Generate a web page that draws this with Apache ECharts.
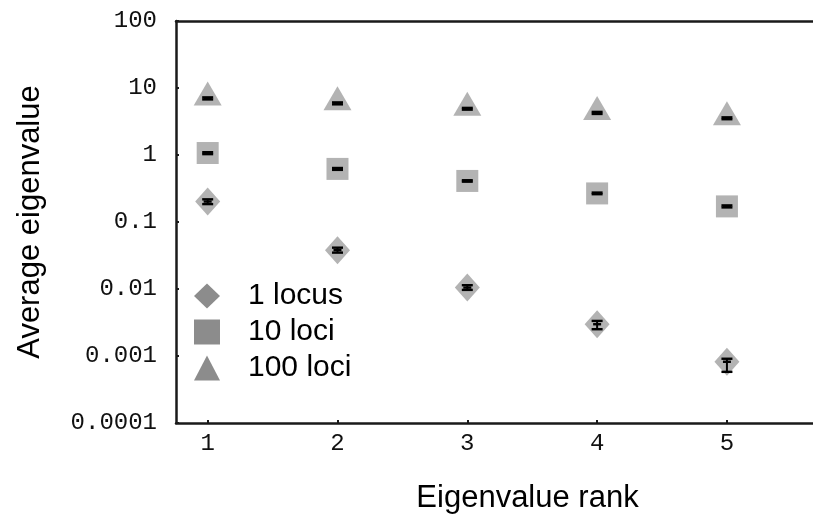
<!DOCTYPE html>
<html>
<head>
<meta charset="utf-8">
<script src="https://cdn.jsdelivr.net/npm/echarts@6/dist/echarts.min.js"></script>
<style>
  html, body { margin: 0; padding: 0; background: #fff; }
  #chart { width: 813px; height: 521px; }
</style>
</head>
<body>
<div id="chart"></div>
<script>
// Eigenvalue rank on x, average eigenvalue (log scale) on y
const ranks = [1, 2, 3, 4, 5];

// Mean eigenvalues per number of loci
const oneLocus  = [0.202, 0.038, 0.0105, 0.00298, 0.00082];
const tenLoci   = [1.07, 0.62, 0.41, 0.267, 0.171];
const hundredLoci = [7.0, 5.9, 4.9, 4.25, 3.54];

// Error bar bounds (low / high)
const oneLocusLo  = [0.185, 0.0349, 0.0097, 0.00251, 0.00058];
const oneLocusHi  = [0.218, 0.0414, 0.0114, 0.00334, 0.00091];
const tenLociLo   = [1.03, 0.60, 0.40, 0.26, 0.165];
const tenLociHi   = [1.10, 0.64, 0.42, 0.275, 0.177];
const hundredLociLo = [6.75, 5.7, 4.75, 4.1, 3.42];
const hundredLociHi = [7.25, 6.1, 5.05, 4.4, 3.65];

// Axis tick labels
const xTicks = [1, 2, 3, 4, 5];
const yTicks = [0.0001, 0.001, 0.01, 0.1, 1, 10, 100];
const yTickLabels = ['0.0001', '0.001', '0.01', '0.1', '1', '10', '100'];

const seriesNames = ['1 locus', '10 loci', '100 loci'];

const markerGray = '#b3b3b3';
const legendGray = '#8c8c8c';
const ink = '#1a1a1a';
const monoFont = 'Liberation Mono';
const sansFont = 'Liberation Sans';
const xMin = 0.756, xMax = 5.663;

function points(ys) {
  return ranks.map((r, i) => [r, ys[i]]);
}
function bars(ys, lo, hi) {
  return ranks.map((r, i) => [r, ys[i], lo[i], hi[i]]);
}

// Black error bar: caps at low/high with a mean tick
function renderErrorBar(params, api) {
  const x = api.value(0);
  const m = api.coord([x, api.value(1)]);
  const lo = api.coord([x, api.value(2)]);
  const hi = api.coord([x, api.value(3)]);
  const hw = 5.5;
  const st = { stroke: '#000', lineWidth: 2.4 };
  return {
    type: 'group',
    children: [
      { type: 'line', shape: { x1: hi[0], y1: hi[1], x2: lo[0], y2: lo[1] }, style: { stroke: '#000', lineWidth: 2 } },
      { type: 'line', shape: { x1: hi[0] - hw, y1: hi[1], x2: hi[0] + hw, y2: hi[1] }, style: st },
      { type: 'line', shape: { x1: lo[0] - hw, y1: lo[1], x2: lo[0] + hw, y2: lo[1] }, style: st },
      { type: 'line', shape: { x1: m[0] - 4, y1: m[1], x2: m[0] + 4, y2: m[1] }, style: st }
    ]
  };
}

function errorSeries(ys, lo, hi) {
  return {
    type: 'custom',
    renderItem: renderErrorBar,
    data: bars(ys, lo, hi),
    encode: { x: 0, y: [1, 2, 3] },
    z: 5,
    silent: true
  };
}

const chart = echarts.init(document.getElementById('chart'), null, { renderer: 'canvas' });

chart.setOption({
  animation: false,
  backgroundColor: '#ffffff',
  grid: { left: 176, top: 21, right: 0, bottom: 98 },
  legend: {
    orient: 'vertical',
    left: 189, top: 276,
    itemWidth: 26, itemHeight: 25, itemGap: 6,
    textStyle: { fontFamily: sansFont, fontSize: 30, color: '#000', lineHeight: 30, padding: [0, 0, 0, 23] },
    data: [
      { name: seriesNames[0], icon: 'diamond', itemStyle: { color: legendGray } },
      { name: seriesNames[1], icon: 'rect', itemStyle: { color: legendGray } },
      { name: seriesNames[2], icon: 'triangle', itemStyle: { color: legendGray } }
    ],
    selectedMode: false
  },
  xAxis: [
    {
      type: 'value',
      min: xMin, max: xMax,
      name: 'Eigenvalue rank',
      nameLocation: 'middle', nameGap: 60,
      nameTextStyle: { fontFamily: sansFont, fontSize: 31, color: '#000', padding: [0, 0, 0, 66] },
      axisLine: { show: true, lineStyle: { color: ink, width: 2.5 } },
      axisTick: { show: true, inside: true, length: 3, lineStyle: { color: ink, width: 2 }, customValues: xTicks },
      axisLabel: { fontFamily: monoFont, fontSize: 24, color: '#111', margin: 9, customValues: xTicks, formatter: v => String(v) },
      splitLine: { show: false }
    },
    {
      // top frame line
      type: 'value', position: 'top',
      min: xMin, max: xMax,
      axisLine: { show: true, lineStyle: { color: ink, width: 2.5 } },
      axisTick: { show: false },
      axisLabel: { show: false },
      splitLine: { show: false }
    }
  ],
  yAxis: {
    type: 'log', logBase: 10,
    min: 0.0001, max: 100,
    name: 'Average eigenvalue',
    nameLocation: 'middle', nameGap: 130,
    nameTextStyle: { fontFamily: sansFont, fontSize: 31, color: '#000' },
    axisLine: { show: true, lineStyle: { color: ink, width: 2.5 } },
    axisTick: { show: true, inside: true, length: 3, lineStyle: { color: ink, width: 2 }, customValues: yTicks },
    axisLabel: {
      fontFamily: monoFont, fontSize: 24, color: '#111', margin: 19, customValues: yTicks,
      formatter: v => {
        const i = yTicks.findIndex(t => Math.abs(Math.log10(t) - Math.log10(v)) < 1e-6);
        return i >= 0 ? yTickLabels[i] : '';
      }
    },
    splitLine: { show: false }
  },
  series: [
    {
      name: seriesNames[0], type: 'scatter', symbol: 'diamond', symbolSize: [25, 28],
      itemStyle: { color: markerGray, opacity: 1 }, data: points(oneLocus), z: 3
    },
    {
      name: seriesNames[1], type: 'scatter', symbol: 'rect', symbolSize: [22, 22],
      itemStyle: { color: markerGray, opacity: 1 }, data: points(tenLoci), z: 3
    },
    {
      name: seriesNames[2], type: 'scatter', symbol: 'triangle', symbolSize: [28, 24], symbolOffset: [0, -5],
      itemStyle: { color: markerGray, opacity: 1 }, data: points(hundredLoci), z: 3
    },
    errorSeries(oneLocus, oneLocusLo, oneLocusHi),
    errorSeries(tenLoci, tenLociLo, tenLociHi),
    errorSeries(hundredLoci, hundredLociLo, hundredLociHi)
  ]
});
</script>
</body>
</html>
